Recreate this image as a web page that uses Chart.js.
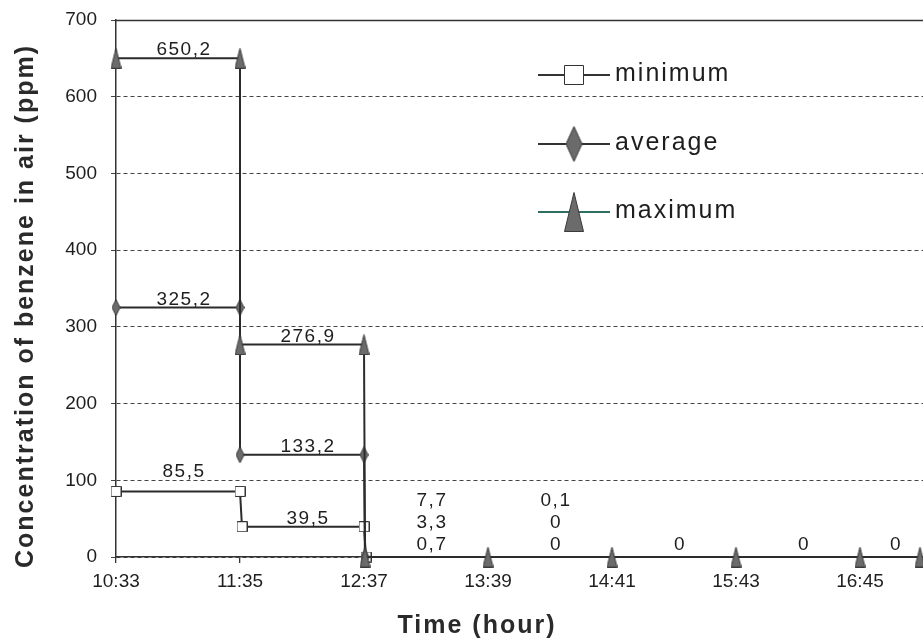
<!DOCTYPE html>
<html>
<head>
<meta charset="utf-8">
<script src="https://cdn.jsdelivr.net/npm/chart.js@4/dist/chart.umd.min.js"></script>
<style>
  html, body { margin: 0; padding: 0; background: #ffffff; overflow: hidden; }
  #wrap { width: 923px; height: 642px; overflow: hidden; position: relative; }
  #c { display: block; }
</style>
</head>
<body>
<div id="wrap"><canvas id="c" width="984" height="642"></canvas></div>
<script>
// ---- data (time in minutes since midnight) ----
const tickTimes = [633, 695, 757, 819, 881, 943, 1005];
const yTicks = [0, 100, 200, 300, 400, 500, 600, 700];

const maxTimes  = [633, 695, 695, 757, 757.5, 819, 881, 943, 1005, 1035];
const maxValues = [650.2, 650.2, 276.9, 276.9, 0, 0, 0, 0, 0, 0];

const avgTimes  = [633, 695, 695, 757, 757.5];
const avgValues = [325.2, 325.2, 133.2, 133.2, 0];

const minTimes  = [633, 695, 696, 757, 758];
const minValues = [85.5, 85.5, 39.5, 39.5, 0];

const intervalStarts = [633, 695, 757, 819, 881, 943, 1005];
const intervalEnds   = [695, 757, 819, 881, 943, 1005, 1035];
const maxLabels = ['650,2', '276,9', '7,7', '0,1', '0', '0', '0'];
const avgLabels = ['325,2', '133,2', '3,3', '0', '', '', ''];
const minLabels = ['85,5', '39,5', '0,7', '0', '', '', ''];
const intervalMax = [650.2, 276.9];
const intervalAvg = [325.2, 133.2];
const intervalMin = [85.5, 39.5];

const seriesNames = ['minimum', 'average', 'maximum'];

// ---- styles ----
const FONT = '"Liberation Sans", Arial, Helvetica, sans-serif';
const LINE = '#2b2b2b';
const FILL = '#6b6b6b';
const minLabelLift = [14, 3];

function marker(type, w, h, fill, stroke) {
  const c = document.createElement('canvas');
  c.width = w; c.height = h;
  const g = c.getContext('2d');
  g.fillStyle = fill; g.strokeStyle = stroke; g.lineWidth = 1;
  g.beginPath();
  if (type === 'square') {
    g.rect(0.5, 0.5, w - 1, h - 1);
  } else if (type === 'diamond') {
    g.moveTo(w / 2, 0.5); g.lineTo(w - 0.5, h / 2); g.lineTo(w / 2, h - 0.5); g.lineTo(0.5, h / 2); g.closePath();
  } else {
    g.moveTo(w / 2, 0.5); g.lineTo(w - 0.5, h - 0.5); g.lineTo(0.5, h - 0.5); g.closePath();
  }
  g.fill(); g.stroke();
  return c;
}

const mSquare = marker('square', 11, 11, '#ffffff', '#333333');
const mDiamond = marker('diamond', 9, 17, FILL, '#3a3a3a');
const mTriangle = marker('triangle', 11, 21, FILL, '#3a3a3a');
const lSquare = marker('square', 20, 20, '#ffffff', '#333333');
const lDiamond = marker('diamond', 17, 36, FILL, '#3a3a3a');
const lTriangle = marker('triangle', 20, 40, FILL, '#3a3a3a');

function pts(xs, ys) { return xs.map((x, i) => ({ x: x, y: ys[i] })); }
function fmtTime(m) { const h = Math.floor(m / 60); const mm = m % 60; return h + ':' + (mm < 10 ? '0' : '') + mm; }

const extrasPlugin = {
  id: 'extras',
  beforeDatasetsDraw(chart) {
    const { ctx, chartArea: a } = chart;
    ctx.save();
    ctx.strokeStyle = '#333';
    ctx.lineWidth = 1.3;
    ctx.beginPath();
    ctx.moveTo(a.left, a.top + 0.5);
    ctx.lineTo(a.right, a.top + 0.5);
    ctx.stroke();
    ctx.restore();
  },
  afterDatasetsDraw(chart) {
    const { ctx, chartArea: a, scales: { x, y } } = chart;
    ctx.save();
    ctx.fillStyle = '#1e1e1e';
    ctx.font = '19px ' + FONT;
    ctx.letterSpacing = '1.5px';
    ctx.textAlign = 'center';
    ctx.textBaseline = 'alphabetic';
    for (let i = 0; i < intervalStarts.length; i++) {
      const cx = (x.getPixelForValue(intervalStarts[i]) + x.getPixelForValue(intervalEnds[i])) / 2 + 6;
      if (i < intervalMax.length) {
        ctx.fillText(maxLabels[i], cx, y.getPixelForValue(intervalMax[i]) - 3);
        ctx.fillText(avgLabels[i], cx, y.getPixelForValue(intervalAvg[i]) - 3);
        ctx.fillText(minLabels[i], cx, y.getPixelForValue(intervalMin[i]) - minLabelLift[i]);
      } else {
        const stack = [minLabels[i], avgLabels[i], maxLabels[i]].filter(s => s !== '');
        let by = a.bottom - 7;
        stack.forEach(s => { ctx.fillText(s, cx, by); by -= 22; });
      }
    }
    // legend
    const items = [
      { name: seriesNames[0], m: lSquare, y: a.top + 55, lc: '#333333' },
      { name: seriesNames[1], m: lDiamond, y: a.top + 124, lc: '#333333' },
      { name: seriesNames[2], m: lTriangle, y: a.top + 192, lc: '#2e6e60' }
    ];
    ctx.font = '25px ' + FONT;
    ctx.letterSpacing = '2px';
    ctx.textAlign = 'left';
    ctx.textBaseline = 'middle';
    items.forEach(it => {
      const lx0 = a.left + 422, lx1 = a.left + 494;
      ctx.strokeStyle = it.lc; ctx.lineWidth = 2;
      ctx.beginPath(); ctx.moveTo(lx0, it.y); ctx.lineTo(lx1, it.y); ctx.stroke();
      const mx = (lx0 + lx1) / 2;
      ctx.drawImage(it.m, mx - it.m.width / 2, it.y - it.m.height / 2);
      ctx.fillStyle = '#1e1e1e';
      ctx.fillText(it.name, lx1 + 5, it.y - 1);
    });
    ctx.restore();
  },
  afterDraw(chart) {
    const { ctx } = chart;
    ctx.save();
    ctx.fillStyle = '#2a2a2a';
    ctx.font = 'bold 25px ' + FONT;
    ctx.letterSpacing = '2px';
    ctx.textAlign = 'center';
    ctx.textBaseline = 'alphabetic';
    ctx.fillText('Time (hour)', 477, 633);
    ctx.translate(33, 306);
    ctx.rotate(-Math.PI / 2);
    ctx.fillText('Concentration of benzene in air (ppm)', 0, 0);
    ctx.restore();
  }
};

new Chart(document.getElementById('c'), {
  type: 'line',
  data: {
    datasets: [
      { label: seriesNames[2], data: pts(maxTimes, maxValues), order: 0, pointStyle: mTriangle },
      { label: seriesNames[1], data: pts(avgTimes, avgValues), order: 1, pointStyle: mDiamond },
      { label: seriesNames[0], data: pts(minTimes, minValues), order: 2, pointStyle: mSquare }
    ].map(d => Object.assign({
      borderColor: LINE, borderWidth: 2, tension: 0, fill: false, clip: false,
      pointRadius: 6, pointHoverRadius: 6
    }, d))
  },
  options: {
    responsive: false,
    animation: false,
    events: [],
    layout: { autoPadding: false, padding: { top: 20, left: 0, right: 0, bottom: 0 } },
    plugins: { legend: { display: false }, tooltip: { enabled: false } },
    scales: {
      x: {
        type: 'linear', min: 633, max: 1067,
        afterBuildTicks: s => { s.ticks = tickTimes.map(v => ({ value: v })); },
        afterFit: s => { s.height = 85; },
        ticks: {
          autoSkip: false, maxRotation: 0, padding: 7, color: '#1e1e1e',
          font: { family: FONT, size: 19 },
          callback: v => (v > 1005 ? '' : fmtTime(v))
        },
        grid: { drawOnChartArea: false, drawTicks: true, tickLength: 6, color: '#333', lineWidth: 1.3 },
        border: { display: true, color: '#333', width: 1.5 }
      },
      y: {
        min: 0, max: 700,
        afterBuildTicks: s => { s.ticks = yTicks.map(v => ({ value: v })); },
        afterFit: s => { s.width = 116; s.paddingTop = 11; s.paddingBottom = 11; },
        ticks: { padding: 14, color: '#1e1e1e', font: { family: FONT, size: 19 } },
        grid: { color: '#444', lineWidth: 1, tickLength: 5 },
        border: { display: true, color: '#333', width: 1.5, dash: [4, 3] }
      }
    }
  },
  plugins: [extrasPlugin]
});
</script>
</body>
</html>
